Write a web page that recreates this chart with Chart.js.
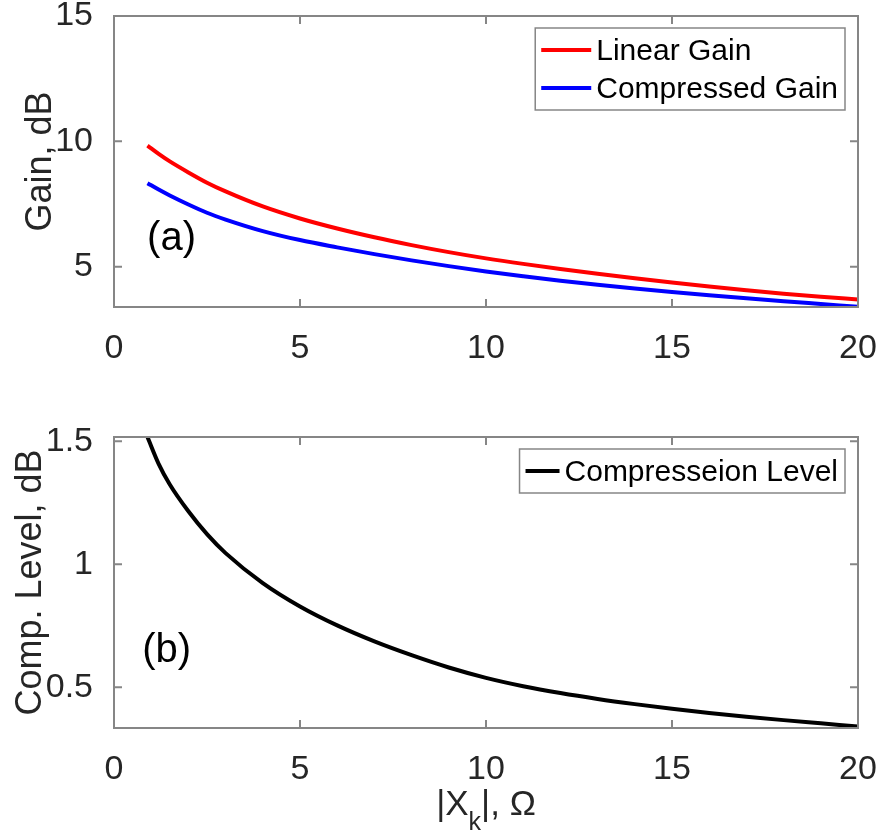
<!DOCTYPE html>
<html>
<head>
<meta charset="utf-8">
<title>Gain and compression level</title>
<script src="https://cdn.jsdelivr.net/npm/chart.js@4.4.1/dist/chart.umd.min.js"></script>
<style>
  html, body { margin: 0; padding: 0; background: #fff; }
  #wrap { position: relative; width: 879px; height: 835px; }
  #gainChart { position: absolute; left: 0; top: 0; }
  #compChart { position: absolute; left: 0; top: 380px; }
</style>
</head>
<body>
<div id="wrap">
  <canvas id="gainChart" width="879" height="380"></canvas>
  <canvas id="compChart" width="879" height="455"></canvas>
</div>
<script>
// values
const xVals          = [0.9, 1.2, 1.5, 2, 2.5, 3, 4, 5, 6, 7, 8, 9, 10, 11, 12, 13, 14, 15, 16, 17, 18, 19, 20];
const linearGain     = [9.83, 9.50, 9.20, 8.76, 8.35, 8.00, 7.40, 6.92, 6.52, 6.17, 5.86, 5.58, 5.33, 5.11, 4.91, 4.72, 4.54, 4.37, 4.21, 4.06, 3.92, 3.80, 3.69];
const compressedGain = [8.33, 8.075, 7.84, 7.48, 7.15, 6.88, 6.42, 6.06, 5.77, 5.50, 5.25, 5.02, 4.81, 4.62, 4.44, 4.28, 4.13, 3.99, 3.86, 3.74, 3.62, 3.51, 3.40];
const compLevel      = [1.517, 1.408, 1.324, 1.215, 1.122, 1.045, 0.923, 0.828, 0.751, 0.686, 0.630, 0.580, 0.538, 0.504, 0.476, 0.452, 0.431, 0.412, 0.395, 0.380, 0.366, 0.353, 0.340];

const xTicks    = [0, 5, 10, 15, 20];
const gainTicks = [5, 10, 15];
const compTicks = [0.5, 1, 1.5];

const FONT = '"Liberation Sans", Arial, Helvetica, sans-serif';
const TEXT_COLOR = '#262626';
const AXIS_COLOR = '#868686';
const TICK_LEN = 8;

Chart.defaults.font.family = FONT;
Chart.defaults.color = TEXT_COLOR;

function pts(ys) {
  return xVals.map((x, i) => ({ x: x, y: ys[i] }));
}

function line(label, ys, color) {
  return {
    label: label,
    data: pts(ys),
    borderColor: color,
    backgroundColor: color,
    borderWidth: 4,
    pointRadius: 0,
    fill: false,
    cubicInterpolationMode: 'monotone'
  };
}

function setTicks(list) {
  return function(scale) {
    scale.ticks = list.map(v => ({ value: v }));
  };
}

function noPad(size, key) {
  return function(scale) {
    scale[key] = size;
    scale.paddingTop = 0; scale.paddingBottom = 0;
    scale.paddingLeft = 0; scale.paddingRight = 0;
  };
}

// box, inward ticks on all four sides, legend, panel tag and x label
const matlabFrame = {
  id: 'matlabFrame',
  afterDraw(chart, args, o) {
    const ctx = chart.ctx, a = chart.chartArea;
    const xs = chart.scales.x, ys = chart.scales.y;
    ctx.save();
    ctx.strokeStyle = AXIS_COLOR;
    ctx.lineWidth = 2;
    ctx.strokeRect(a.left, a.top, a.right - a.left, a.bottom - a.top);
    ctx.beginPath();
    xs.ticks.forEach(t => {
      const p = xs.getPixelForValue(t.value);
      ctx.moveTo(p, a.bottom); ctx.lineTo(p, a.bottom - TICK_LEN);
      ctx.moveTo(p, a.top);    ctx.lineTo(p, a.top + TICK_LEN);
    });
    ys.ticks.forEach(t => {
      const p = ys.getPixelForValue(t.value);
      ctx.moveTo(a.left, p);  ctx.lineTo(a.left + TICK_LEN, p);
      ctx.moveTo(a.right, p); ctx.lineTo(a.right - TICK_LEN, p);
    });
    ctx.stroke();

    // panel tag, e.g. (a)
    if (o.tag) {
      ctx.fillStyle = '#000';
      ctx.font = o.tag.size + 'px ' + FONT;
      ctx.textAlign = 'left';
      ctx.textBaseline = 'alphabetic';
      ctx.fillText(o.tag.text, xs.getPixelForValue(o.tag.x), ys.getPixelForValue(o.tag.y));
    }

    // legend box in the upper right corner
    const lg = o.legend;
    ctx.font = lg.size + 'px ' + FONT;
    const sets = chart.data.datasets;
    let tw = 0;
    sets.forEach(d => { tw = Math.max(tw, ctx.measureText(d.label).width); });
    const w = lg.padL + lg.lineLen + lg.gap + tw + lg.padR;
    const h = sets.length * lg.rowH + 2 * lg.padV;
    const right = a.right - lg.inset;
    const left = right - w;
    const top = a.top + lg.insetTop;
    ctx.fillStyle = '#fff';
    ctx.fillRect(left, top, w, h);
    ctx.strokeStyle = AXIS_COLOR;
    ctx.lineWidth = 1.5;
    ctx.strokeRect(left, top, w, h);
    sets.forEach((d, i) => {
      const cy = top + lg.padV + lg.rowH * (i + 0.5);
      ctx.strokeStyle = d.borderColor;
      ctx.lineWidth = 4;
      ctx.beginPath();
      ctx.moveTo(left + lg.padL, cy);
      ctx.lineTo(left + lg.padL + lg.lineLen, cy);
      ctx.stroke();
      ctx.fillStyle = '#000';
      ctx.textAlign = 'left';
      ctx.textBaseline = 'middle';
      ctx.fillText(d.label, left + lg.padL + lg.lineLen + lg.gap, cy + lg.textDy);
    });

    // x axis label with a subscript
    if (o.xTitle) {
      const cx = (a.left + a.right) / 2;
      const base = o.xTitle.baseline;
      const big = o.xTitle.size + 'px ' + FONT;
      const small = o.xTitle.subSize + 'px ' + FONT;
      ctx.fillStyle = TEXT_COLOR;
      ctx.textBaseline = 'alphabetic';
      ctx.textAlign = 'left';
      ctx.font = big;
      const w1 = ctx.measureText('|X').width;
      const w3 = ctx.measureText('|, \u03A9').width;
      ctx.font = small;
      const w2 = ctx.measureText('k').width;
      let x0 = cx - (w1 + w2 + w3) / 2;
      ctx.font = big;
      ctx.fillText('|X', x0, base);
      ctx.font = small;
      ctx.fillText('k', x0 + w1, base + o.xTitle.subDrop);
      ctx.font = big;
      ctx.fillText('|, \u03A9', x0 + w1 + w2, base);
    }
    ctx.restore();
  }
};

function axes(yMin, yMax, yTicks, yTitle, yTitlePad, xHeight) {
  return {
    x: {
      type: 'linear', min: 0, max: 20,
      afterBuildTicks: setTicks(xTicks),
      afterFit: noPad(xHeight, 'height'),
      grid: { display: false },
      border: { display: false },
      ticks: { font: { size: 34 }, padding: 13, color: TEXT_COLOR, callback: v => String(v) }
    },
    y: {
      type: 'linear', min: yMin, max: yMax,
      afterBuildTicks: setTicks(yTicks),
      afterFit: noPad(114, 'width'),
      grid: { display: false },
      border: { display: false },
      ticks: { font: { size: 34 }, padding: 13, color: TEXT_COLOR, callback: v => String(v) },
      title: { display: true, text: yTitle, font: { size: 36 }, color: TEXT_COLOR, padding: { top: yTitlePad, bottom: 0 } }
    }
  };
}

new Chart(document.getElementById('gainChart'), {
  type: 'line',
  data: {
    datasets: [
      line('Linear Gain', linearGain, '#ff0000'),
      line('Compressed Gain', compressedGain, '#0000ff')
    ]
  },
  options: {
    responsive: false,
    animation: false,
    layout: { padding: { left: 0, right: 21, top: 16, bottom: 0 } },
    scales: axes(3.39, 15, gainTicks, 'Gain, dB', 19, 73),
    plugins: {
      legend: { display: false },
      tooltip: { enabled: false },
      matlabFrame: {
        tag: { text: '(a)', x: 0.89, y: 5.65, size: 40 },
        legend: { size: 30, padL: 6, lineLen: 50, gap: 5, padR: 7, rowH: 38, padV: 3, inset: 13, insetTop: 12, textDy: 1.5 }
      }
    }
  },
  plugins: [matlabFrame]
});

new Chart(document.getElementById('compChart'), {
  type: 'line',
  data: {
    datasets: [
      line('Compresseion Level', compLevel, '#000000')
    ]
  },
  options: {
    responsive: false,
    animation: false,
    layout: { padding: { left: 0, right: 21, top: 57, bottom: 0 } },
    scales: axes(0.334, 1.517, compTicks, 'Comp. Level, dB', 9, 107),
    plugins: {
      legend: { display: false },
      tooltip: { enabled: false },
      matlabFrame: {
        tag: { text: '(b)', x: 0.76, y: 0.603, size: 40 },
        legend: { size: 30, padL: 6, lineLen: 34, gap: 5, padR: 7, rowH: 38, padV: 3, inset: 13, insetTop: 12, textDy: 1.5 },
        xTitle: { baseline: 435, size: 35, subSize: 25, subDrop: 15 }
      }
    }
  },
  plugins: [matlabFrame]
});
</script>
</body>
</html>
